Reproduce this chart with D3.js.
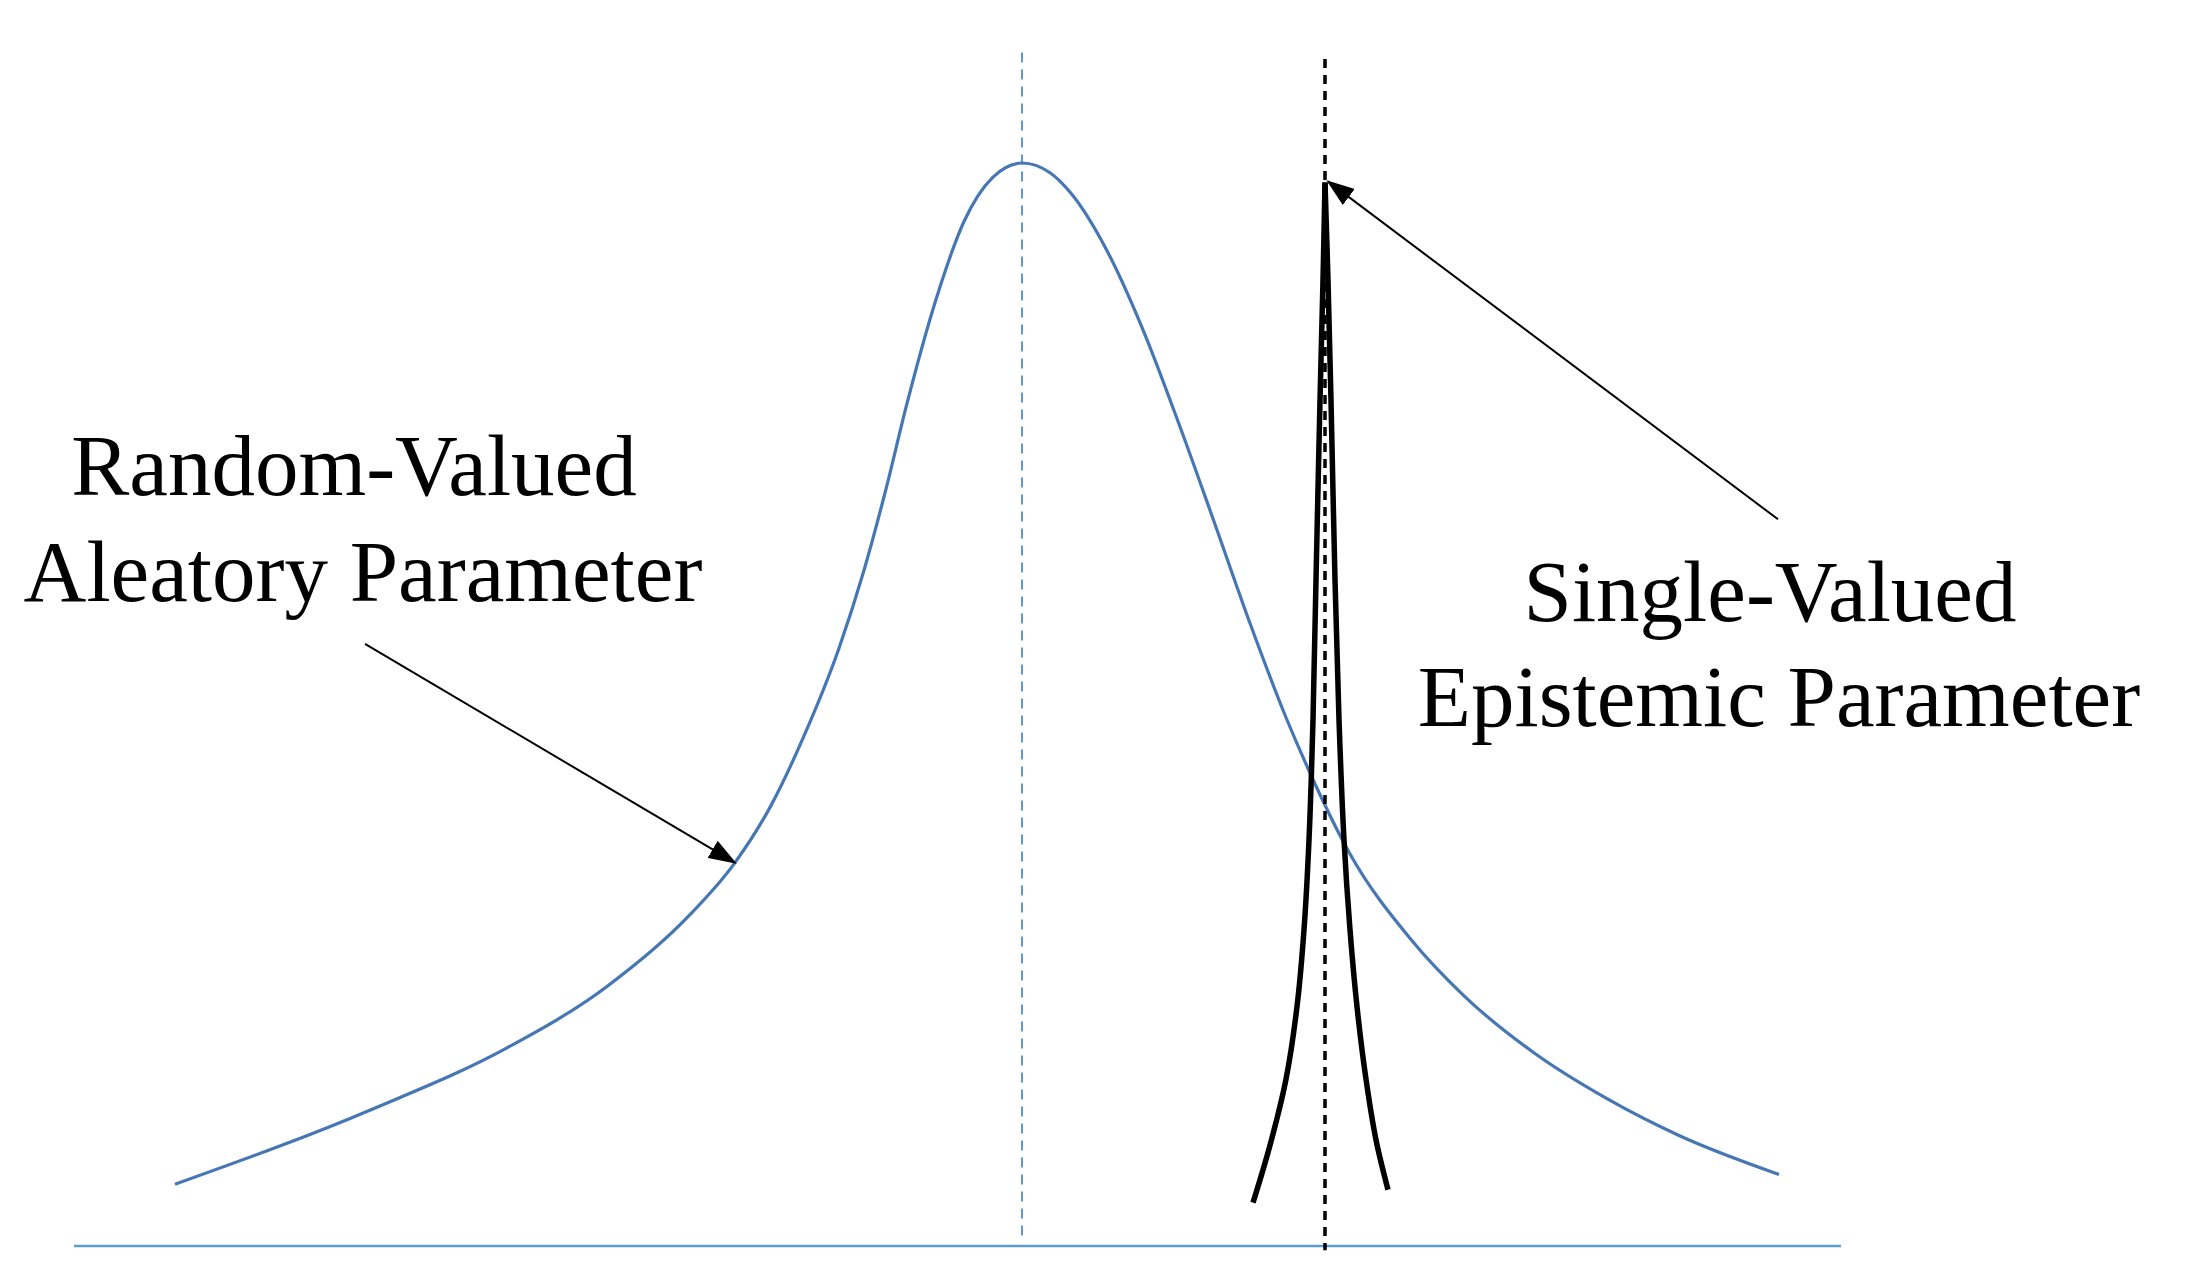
<!DOCTYPE html>
<html>
<head>
<meta charset="utf-8">
<script src="https://cdn.jsdelivr.net/npm/d3@7"></script>
<style>
  html, body { margin: 0; padding: 0; background: #ffffff; }
  svg { display: block; }
</style>
</head>
<body>
<script>
// ---- data ----
// aleatory (random-valued) density, x in parameter units, y in relative density
const aleatoryX = [-8.47, -6.48, -5.15, -4.16, -3.33, -2.87, -2.52, -2.18, -1.83, -1.58, -1.36, -1.15, -0.86, -0.58, -0.29, 0.00, 0.28, 0.49, 0.85, 1.21, 1.57, 1.92, 2.28, 2.64, 2.85, 3.28, 3.89, 4.42, 5.14, 5.85, 6.57, 7.57];
const aleatoryY = [0.057, 0.127, 0.183, 0.239, 0.305, 0.354, 0.405, 0.471, 0.552, 0.624, 0.699, 0.778, 0.874, 0.946, 0.987, 1.000, 0.991, 0.972, 0.919, 0.846, 0.759, 0.669, 0.575, 0.488, 0.443, 0.362, 0.283, 0.231, 0.177, 0.136, 0.102, 0.066];

// epistemic (single-valued) spike: left flank and right flank
const epistemicLeftX  = [2.31, 2.48, 2.64, 2.75, 2.82, 2.87, 2.91, 2.94, 2.98, 3.01, 3.03];
const epistemicLeftY  = [0.040, 0.093, 0.154, 0.221, 0.292, 0.375, 0.486, 0.615, 0.781, 0.892, 0.982];
const epistemicRightX = [3.03, 3.06, 3.09, 3.13, 3.17, 3.22, 3.28, 3.35, 3.44, 3.54, 3.66];
const epistemicRightY = [0.982, 0.892, 0.781, 0.615, 0.486, 0.375, 0.292, 0.221, 0.154, 0.098, 0.052];

const aleatoryMean = 0.0;
const epistemicValue = 3.03;
const axisExtent = [-9.48, 8.19];
const meanLineTop = 1.102;
const valueLineTop = 1.096;
const valueLineBottom = -0.004;

const labelsLeft = ["Random-Valued", "Aleatory Parameter"];
const labelsRight = ["Single-Valued", "Epistemic Parameter"];
// annotation arrows: [fromX, fromY, toX, toY] in data units
const arrowAleatory = [-6.57, 0.556, -2.87, 0.354];
const arrowEpistemic = [7.56, 0.671, 3.06, 0.983];

// ---- layout ----
const W = 2187, H = 1278;
const svg = d3.select("body").append("svg").attr("width", W).attr("height", H);

const x = d3.scaleLinear().domain(axisExtent).range([74, 1841]);
const y = d3.scaleLinear().domain([0, 1]).range([1246, 163]);

const defs = svg.append("defs");
defs.append("marker")
  .attr("id", "head")
  .attr("markerUnits", "userSpaceOnUse")
  .attr("viewBox", "0 0 28 20")
  .attr("markerWidth", 28).attr("markerHeight", 20)
  .attr("refX", 26).attr("refY", 10)
  .attr("orient", "auto")
  .append("path").attr("d", "M0,0 L28,10 L0,20 Z").attr("fill", "#000");

// baseline
svg.append("line")
  .attr("x1", x(axisExtent[0])).attr("x2", x(axisExtent[1]))
  .attr("y1", y(0)).attr("y2", y(0))
  .attr("stroke", "#5b9bd5").attr("stroke-width", 2.5);

// mean line (blue dashed)
svg.append("line")
  .attr("x1", x(aleatoryMean)).attr("x2", x(aleatoryMean))
  .attr("y1", y(meanLineTop)).attr("y2", y(0.004))
  .attr("stroke", "#5b9bd5").attr("stroke-width", 2)
  .attr("stroke-dasharray", "10,7");

// aleatory curve
const aleatory = aleatoryX.map((v, i) => [v, aleatoryY[i]]);
const line = d3.line().x(d => x(d[0])).y(d => y(d[1])).curve(d3.curveMonotoneX);
svg.append("path")
  .attr("d", line(aleatory))
  .attr("fill", "none").attr("stroke", "#4677b4").attr("stroke-width", 3.2);

// epistemic value line (black dashed)
svg.append("line")
  .attr("x1", x(epistemicValue)).attr("x2", x(epistemicValue))
  .attr("y1", y(valueLineTop)).attr("y2", y(valueLineBottom))
  .attr("stroke", "#000").attr("stroke-width", 3.5)
  .attr("stroke-dasharray", "9,7");

// epistemic spike (two flanks meeting in a sharp tip)
const flank = d3.line().x(d => x(d[0])).y(d => y(d[1])).curve(d3.curveCatmullRom.alpha(0.5));
const leftFlank = epistemicLeftX.map((v, i) => [v, epistemicLeftY[i]]);
const rightFlank = epistemicRightX.map((v, i) => [v, epistemicRightY[i]]);
[leftFlank, rightFlank].forEach(f => {
  svg.append("path")
    .attr("d", flank(f))
    .attr("fill", "none").attr("stroke", "#000").attr("stroke-width", 5.5)
    .attr("stroke-linecap", "butt");
});

// arrows
[arrowAleatory, arrowEpistemic].forEach(a => {
  svg.append("line")
    .attr("x1", x(a[0])).attr("y1", y(a[1]))
    .attr("x2", x(a[2])).attr("y2", y(a[3]))
    .attr("stroke", "#000").attr("stroke-width", 2)
    .attr("marker-end", "url(#head)");
});

// labels
const font = "'Liberation Serif', 'Times New Roman', serif";
const leftPos = [[354, 495], [363, 601]];
const rightPos = [[1770, 621], [1779, 726]];
labelsLeft.forEach((t, i) => {
  svg.append("text").attr("x", leftPos[i][0]).attr("y", leftPos[i][1])
    .attr("text-anchor", "middle").attr("font-family", font).attr("font-size", 87)
    .attr("fill", "#000").text(t);
});
labelsRight.forEach((t, i) => {
  svg.append("text").attr("x", rightPos[i][0]).attr("y", rightPos[i][1])
    .attr("text-anchor", "middle").attr("font-family", font).attr("font-size", 87)
    .attr("fill", "#000").text(t);
});
</script>
</body>
</html>
